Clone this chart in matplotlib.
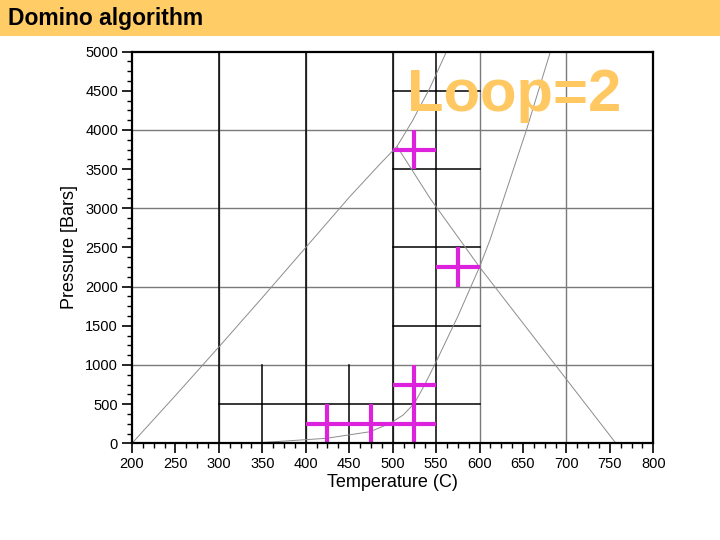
import matplotlib
matplotlib.use("Agg")
import matplotlib.pyplot as plt
from matplotlib.ticker import MultipleLocator

plt.rcParams['font.family'] = ['Liberation Sans', 'DejaVu Sans']

# reaction curves (T in C, P in bars)
curve1_T = [200, 250, 300, 350, 400, 450, 485, 505, 523, 543, 562]
curve1_P = [0, 610, 1230, 1860, 2500, 3140, 3560, 3790, 4120, 4540, 5000]
curve2_T = [335, 382, 424, 474, 497, 512, 525, 537, 550, 575, 600, 612, 654, 681]
curve2_P = [0, 33, 64, 148, 255, 360, 510, 750, 1040, 1620, 2250, 2595, 4000, 4980]
curve3_T = [505, 543, 600, 757]
curve3_P = [3790, 3128, 2250, 0]

# domino grid lines
vlines_full = [300, 400, 500, 550]
vlines_low = [350, 450]
hlines_y = [4500, 3500, 2500, 1500, 500]
hlines_x0 = [500, 500, 500, 500, 300]
hlines_x1 = [600, 600, 600, 600, 600]

# crosses (cell centres; each cell is 50 C x 500 bar)
cross_T = [525, 575, 525, 425, 475, 525]
cross_P = [3750, 2250, 750, 250, 250, 250]

fig = plt.figure(figsize=(7.2, 5.4), dpi=100)
fig.patches.append(plt.Rectangle((0, 1 - 36 / 540), 1, 36 / 540, transform=fig.transFigure,
                                 facecolor='#FFCC66', edgecolor='none', zorder=0))
fig.text(8 / 720, 1 - 19 / 540, 'Domino algorithm', fontsize=16.5, fontweight='bold',
         va='center', ha='left', color='black')

ax = fig.add_axes([132 / 720, (540 - 443.3) / 540, (653.3 - 132) / 720, (443.3 - 51.6) / 540])
ax.set_xlim(200, 800)
ax.set_ylim(0, 5000)

fig.text(407 / 720, 1 - 111 / 540, 'Loop=2', fontsize=43, fontweight='bold',
         color='#FFC862', ha='left', va='baseline', zorder=1)
ax.patch.set_alpha(0)

for x in [300, 400, 500, 600, 700]:
    ax.axvline(x, color='#7a7a7a', lw=1.0, zorder=2)
for y in [1000, 2000, 3000, 4000]:
    ax.axhline(y, color='#7a7a7a', lw=1.0, zorder=2)

for x in vlines_full:
    ax.plot([x, x], [0, 5000], color='black', lw=1.1, zorder=3)
for x in vlines_low:
    ax.plot([x, x], [0, 1000], color='black', lw=1.1, zorder=3)
for y, x0, x1 in zip(hlines_y, hlines_x0, hlines_x1):
    ax.plot([x0, x1], [y, y], color='black', lw=1.1, zorder=3)

ax.plot(curve1_T, curve1_P, color='#8c8c8c', lw=0.7, zorder=4)
ax.plot(curve2_T, curve2_P, color='#8c8c8c', lw=0.7, zorder=4)
ax.plot(curve3_T, curve3_P, color='#8c8c8c', lw=0.7, zorder=4)

for t, p in zip(cross_T, cross_P):
    ax.plot([t - 25, t + 25], [p, p], color='#DD22DD', lw=3, solid_capstyle='butt', zorder=5)
    ax.plot([t, t], [p - 250, p + 250], color='#DD22DD', lw=3, solid_capstyle='butt', zorder=5)

ax.xaxis.set_major_locator(MultipleLocator(50))
ax.xaxis.set_minor_locator(MultipleLocator(12.5))
ax.yaxis.set_major_locator(MultipleLocator(500))
ax.yaxis.set_minor_locator(MultipleLocator(125))
ax.tick_params(which='major', length=7, width=1.2, labelsize=10.5, pad=3, direction='out')
ax.tick_params(which='minor', length=3.5, width=1.0, direction='out')
for s in ax.spines.values():
    s.set_linewidth(1.6)
    s.set_zorder(6)

ax.set_xlabel('Temperature (C)', fontsize=13, labelpad=2)
ax.set_ylabel('Pressure [Bars]', fontsize=13, labelpad=5)

fig.savefig('out.png', dpi=100)
